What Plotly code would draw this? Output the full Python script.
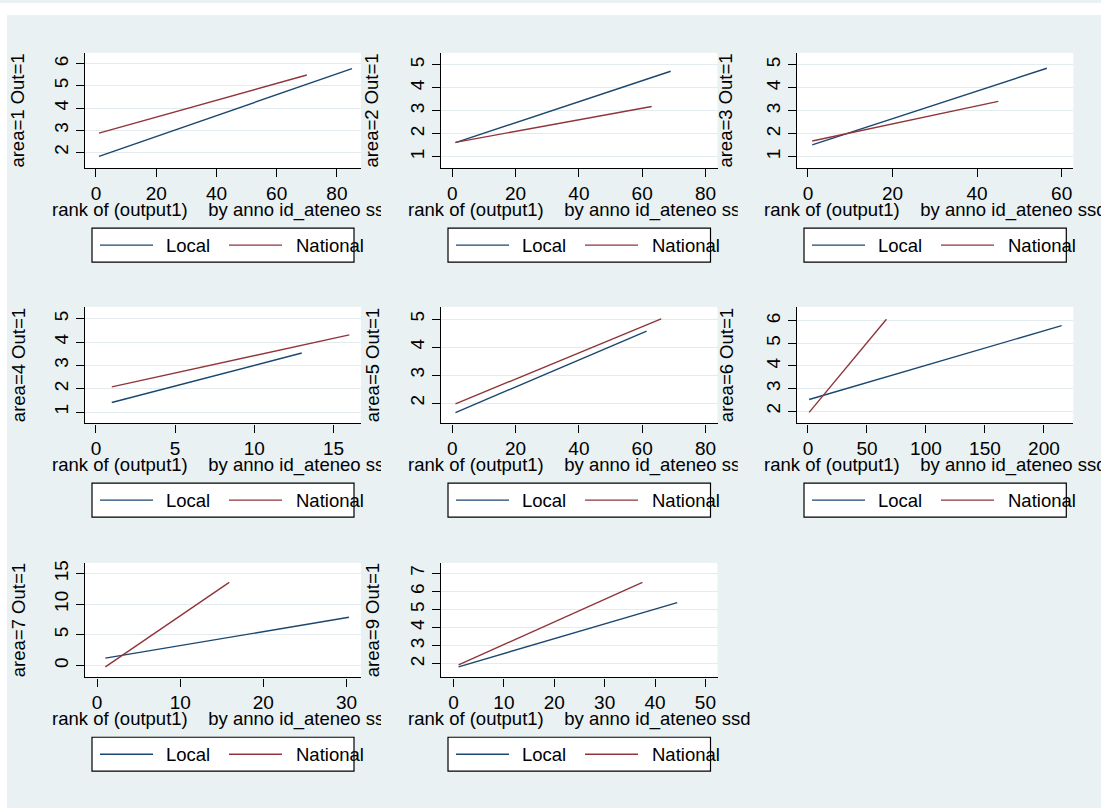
import plotly.graph_objects as go

# ---------------- data ----------------
panel_labels = ["area=1 Out=1", "area=2 Out=1", "area=3 Out=1", "area=4 Out=1",
                "area=5 Out=1", "area=6 Out=1", "area=7 Out=1", "area=9 Out=1"]
x_title = "rank of (output1)    by anno id_ateneo ssd"
series_names = ["Local", "National"]

local_x = [[1, 85], [1, 69], [1, 56.5], [1, 13], [1, 61.4], [1, 215], [1, 30.3], [1, 44.4]]
local_y = [[1.82, 5.78], [1.62, 4.72], [1.52, 4.85], [1.41, 3.53],
           [1.66, 4.57], [2.51, 5.79], [1.20, 7.86], [1.83, 5.38]]
national_x = [[1, 70], [1, 63], [1, 45], [1, 16], [1, 66], [1, 66.5], [1, 15.9], [1, 37.5]]
national_y = [[2.87, 5.49], [1.63, 3.19], [1.69, 3.41], [2.08, 4.31],
              [1.97, 5.01], [1.94, 6.07], [-0.21, 13.55], [1.94, 6.50]]

x_ticks = [[0, 20, 40, 60, 80], [0, 20, 40, 60, 80], [0, 20, 40, 60], [0, 5, 10, 15],
           [0, 20, 40, 60, 80], [0, 50, 100, 150, 200], [0, 10, 20, 30], [0, 10, 20, 30, 40, 50]]
y_ticks = [[2, 3, 4, 5, 6], [1, 2, 3, 4, 5], [1, 2, 3, 4, 5], [1, 2, 3, 4, 5],
           [2, 3, 4, 5], [2, 3, 4, 5, 6], [0, 5, 10, 15], [2, 3, 4, 5, 6, 7]]

# ---------------- layout (pixels) ----------------
W, H = 1101, 808
x_ranges = [[-3.65, 88.0], [-3.57, 83.8], [-2.60, 62.75], [-0.69, 16.74],
            [-3.57, 83.8], [-9.3, 224.9], [-1.45, 31.75], [-2.49, 52.4]]
y_ranges = [[1.28, 6.49], [0.50, 5.52], [0.50, 5.52], [0.51, 5.51],
            [1.27, 5.44], [1.45, 6.62], [-1.95, 16.72], [1.24, 7.58]]
col_left = [85, 441, 797]
col_right = [361, 717.5, 1073.3]
row_top = [50, 305, 562]
row_bottom = [166, 422, 677]
clip_x = [380, 737, None]

BG = "#e9f1f3"
GRID = "#e3ebee"
NAVY = "#1a476f"
MAROON = "#90353b"
FONT = "Liberation Sans"
FS = 18.5

fig = go.Figure()
layout = dict(
    width=W, height=H, margin=dict(l=0, r=0, t=0, b=0),
    paper_bgcolor=BG, plot_bgcolor="white", showlegend=False,
    font=dict(family=FONT, size=FS, color="black"),
)
shapes = [
    dict(type="rect", xref="paper", yref="paper", x0=0, x1=1, y0=1 - 12 / H, y1=1,
         fillcolor="white", line=dict(width=0), layer="below"),
    dict(type="rect", xref="paper", yref="paper", x0=0, x1=7 / W, y0=0, y1=1,
         fillcolor="white", line=dict(width=0), layer="below"),
]
annotations = []


def px(x):
    return x / W


def py(y):
    return 1 - y / H


for i in range(len(panel_labels)):
    r, c = divmod(i, 3)
    L, R, T, B = col_left[c], col_right[c], row_top[r], row_bottom[r]
    k = "" if i == 0 else str(i + 1)
    xa, ya = "x" + k, "y" + k
    fig.add_trace(go.Scatter(x=local_x[i], y=local_y[i], mode="lines", name=series_names[0],
                             line=dict(color=NAVY, width=1.4), xaxis=xa, yaxis=ya,
                             hoverinfo="skip"))
    fig.add_trace(go.Scatter(x=national_x[i], y=national_y[i], mode="lines", name=series_names[1],
                             line=dict(color=MAROON, width=1.4), xaxis=xa, yaxis=ya,
                             hoverinfo="skip"))
    layout["xaxis" + k] = dict(
        domain=[px(L), px(R)], anchor=ya, range=x_ranges[i], tickvals=x_ticks[i],
        showgrid=False, zeroline=False, showline=True, linecolor="black", linewidth=1.2,
        ticks="outside", ticklen=8, tickcolor="black", tickwidth=1.2,
        tickfont=dict(size=19, family=FONT, color="black"), fixedrange=True,
    )
    layout["yaxis" + k] = dict(
        domain=[py(B), py(T)], anchor=xa, range=y_ranges[i], tickvals=y_ticks[i],
        showgrid=True, gridcolor=GRID, gridwidth=1.2, zeroline=False,
        showline=True, linecolor="black", linewidth=1.2,
        ticks="outside", ticklen=8, tickcolor="black", tickwidth=1.2, tickangle=-90,
        tickfont=dict(size=19, family=FONT, color="black"), fixedrange=True,
    )
    # y title
    annotations.append(dict(
        text=panel_labels[i], xref="paper", yref="paper", x=px(L - 67 - 2 * c), y=py((T + B) / 2),
        xanchor="center", yanchor="middle", textangle=-90, showarrow=False,
        font=dict(size=FS, family=FONT, color="black"),
    ))
    # x title (clipped where the neighbouring cell begins)
    tw = 344
    start = (L + R) / 2 - tw / 2
    ann = dict(
        text=x_title, xref="paper", yref="paper", x=px(start), y=py(B + 42),
        xanchor="left", yanchor="middle", align="left", showarrow=False, borderpad=0,
        font=dict(size=FS, family=FONT, color="black"),
    )
    has_next = (c < 2) and (i + 1 < len(panel_labels))
    if has_next:
        ann["width"] = clip_x[c] - start
    annotations.append(ann)
    # legend box
    bl, br = L + 7, R - 7
    bt, bb = B + 60, B + 94
    ym = (bt + bb) / 2
    shapes.append(dict(type="rect", xref="paper", yref="paper", x0=px(bl), x1=px(br),
                       y0=py(bb), y1=py(bt), fillcolor="white",
                       line=dict(color="black", width=1.2), layer="above"))
    for j, (col, off_line, off_txt) in enumerate([(NAVY, 8, 73), (MAROON, 137, 203)]):
        shapes.append(dict(type="line", xref="paper", yref="paper",
                           x0=px(bl + off_line), x1=px(bl + off_line + 53), y0=py(ym), y1=py(ym),
                           line=dict(color=col, width=1.4), layer="above"))
        annotations.append(dict(
            text=series_names[j], xref="paper", yref="paper", x=px(bl + off_txt), y=py(ym),
            xanchor="left", yanchor="middle", showarrow=False, borderpad=0,
            font=dict(size=FS, family=FONT, color="black"),
        ))

layout["shapes"] = shapes
layout["annotations"] = annotations
fig.update_layout(**layout)
fig.write_html("out.html", config={"displayModeBar": False},
               post_script="document.body.style.margin='0';document.body.style.overflow='hidden';")
